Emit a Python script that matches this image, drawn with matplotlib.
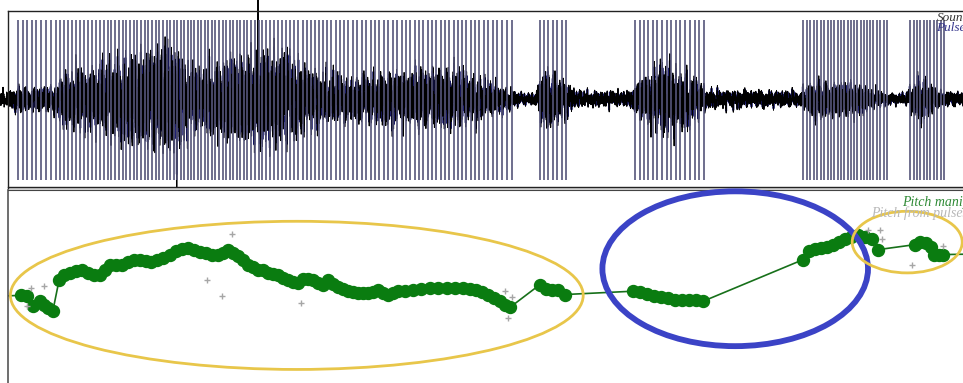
import numpy as np
import matplotlib.pyplot as plt
from matplotlib.patches import Ellipse, Rectangle

# --- manipulated pitch points (time in s, pitch in Hz) ---
pitch_t = [-0.015, 0.016, 0.024, 0.031, 0.040, 0.045, 0.050, 0.056,
           0.064, 0.070, 0.078, 0.085, 0.093, 0.100, 0.108, 0.115, 0.121,
           0.128, 0.135, 0.143, 0.150, 0.158, 0.165, 0.173, 0.179, 0.186,
           0.194, 0.203, 0.210, 0.218, 0.225, 0.233, 0.240, 0.248, 0.255,
           0.263, 0.269, 0.275, 0.281, 0.288, 0.294, 0.300, 0.306, 0.313,
           0.319, 0.325, 0.331, 0.338, 0.344, 0.350, 0.356, 0.363, 0.369,
           0.375, 0.381, 0.388, 0.394, 0.400, 0.406, 0.413, 0.419, 0.425,
           0.431, 0.438, 0.444, 0.450, 0.456, 0.463, 0.469, 0.475, 0.481,
           0.488, 0.496, 0.506, 0.516, 0.528, 0.538, 0.549, 0.559, 0.569,
           0.578, 0.585, 0.593, 0.600, 0.608, 0.615, 0.621, 0.628,
           0.665, 0.673, 0.680, 0.688, 0.696,
           0.781, 0.790, 0.799, 0.808, 0.816, 0.825, 0.834, 0.843, 0.851,
           0.860, 0.869,
           0.994, 1.001, 1.009, 1.016, 1.024, 1.031, 1.039, 1.046, 1.054,
           1.063, 1.071, 1.080, 1.088,
           1.134, 1.140, 1.148, 1.154, 1.158, 1.164, 1.169, 1.228]
pitch_hz = [176, 177, 176, 164, 170, 166, 162, 158,
            196, 201, 204, 206, 207, 204, 202, 201, 208,
            213, 213, 214, 217, 219, 220, 218, 217, 219,
            222, 226, 230, 233, 234, 231, 229, 228, 226,
            225, 228, 231, 228, 224, 219, 214, 211, 208,
            207, 204, 203, 201, 198, 196, 193, 192, 197,
            197, 196, 192, 190, 195, 191, 187, 185, 182,
            181, 180, 180, 180, 181, 184, 180, 177, 180,
            182, 182, 184, 185, 186, 186, 186, 186, 186,
            185, 184, 181, 177, 174, 170, 166, 163,
            190, 185, 184, 183, 178,
            182, 181, 179, 176, 175, 174, 172, 171, 171,
            171, 170,
            220, 230, 233, 234, 235, 238, 241, 245, 247,
            249, 247, 245, 232,
            238, 241, 240, 235, 226, 226, 226, 227]

# --- pitch measured from the pulses ---
raw_t = [0.024, 0.029, 0.045, 0.249, 0.268, 0.280, 0.366, 0.621, 0.630,
         0.625, 1.075, 1.090, 1.093, 1.130, 1.169]
raw_hz = [164, 186, 188, 195, 176, 251, 168, 182, 175,
          150, 255, 256, 245, 214, 236]

# --- voiced stretches (s) where pulses are placed ---
voiced_start = [0.0125, 0.665, 0.784, 0.994, 1.128]
voiced_end = [0.634, 0.700, 0.871, 1.099, 1.171]

# --- sound amplitude envelope ---
env_t = [-0.01, 0.015, 0.059, 0.074, 0.115, 0.140, 0.178, 0.196, 0.221,
         0.240, 0.290, 0.340, 0.378, 0.428, 0.490, 0.553, 0.615, 0.640,
         0.659, 0.671, 0.696, 0.709, 0.778, 0.790, 0.821, 0.853, 0.875,
         0.990, 1.003, 1.053, 1.096, 1.121, 1.140, 1.165, 1.250]
env_amp = [0.09, 0.14, 0.14, 0.34, 0.40, 0.54, 0.68, 0.79, 0.50,
           0.37, 0.60, 0.62, 0.34, 0.25, 0.34, 0.36, 0.16, 0.07,
           0.07, 0.40, 0.22, 0.09, 0.09, 0.25, 0.45, 0.28, 0.11,
           0.09, 0.22, 0.19, 0.07, 0.06, 0.28, 0.09, 0.06]
# two samples that run past the panel edges
peak_t = [0.211, 0.3125]
peak_amp = [-1.0, 1.12]

# --- annotation rings (centre t, centre Hz, width s, height Hz) ---
ring_t = [0.361, 0.909, 1.124]
ring_hz = [177, 209, 241]
ring_w = [0.716, 0.332, 0.1375]
ring_h = [178, 186, 74]
ring_col = ['#e8c64a', '#3b43c6', '#e8c64a']
ring_lw = [2.0, 4.2, 2.0]

W, H = 963, 383
fig = plt.figure(figsize=(W / 100, H / 100), dpi=100)
px = 800.0  # pixels per second
left = 8
right = 1000

# ---- sound + pulses panel ----
ax1 = fig.add_axes([left / W, 1 - 187.5 / H, (right - left) / W, 177 / H])
ax1.set_xlim(0, (right - left) / px)
ax1.set_ylim(-1, 1)

fs = 8000
t = np.arange(-0.01, 1.25, 1.0 / fs)
freqs = [97, 151, 233, 307, 419, 523, 661, 787, 1013, 1231, 1489,
         1777, 2111, 2503, 2953, 3391]
carrier = np.zeros_like(t)
for k, f in enumerate(freqs):
    carrier += np.sin(2 * np.pi * f * t + 0.37 * k * k + 1.3 * k)
carrier /= 2.1 * carrier.std()
env = np.interp(t, env_t, env_amp)
# soft limit so the loudest stretch stays inside the frame
wave = 0.82 * np.tanh(env * carrier / 0.82)
for pt, pa in zip(peak_t, peak_amp):
    wave[np.argmin(np.abs(t - pt))] = pa
# navy underlay gives the bluish cast inside the louder stretches
ax1.plot(t, 0.85 * wave, color='#1c1c72', lw=1.3, zorder=1)
ax1.plot(t, wave, color='black', lw=0.7, clip_on=False, zorder=2)

pulses = []
for a, b in zip(voiced_start, voiced_end):
    tp = a
    while tp <= b:
        pulses.append(tp)
        tp += 1.0 / np.interp(tp, pitch_t, pitch_hz)
ax1.vlines(pulses, -0.915, 0.893, color='#55557a', lw=1.2, zorder=3)

for s in ['top', 'left', 'bottom']:
    ax1.spines[s].set_color('#222222')
    ax1.spines[s].set_linewidth(1.0)
ax1.spines['right'].set_visible(False)
ax1.set_xticks([])
ax1.set_yticks([])

# ---- pitch panel ----
ax2 = fig.add_axes([left / W, -17 / H, (right - left) / W, 210.5 / H])
ax2.set_xlim(0, (right - left) / px)
ax2.set_ylim(51.3, 304.2)
ax2.plot(pitch_t, pitch_hz, color='#17701a', lw=1.2, zorder=2)
ax2.plot(pitch_t, pitch_hz, 'o', color='#0a7c10', ms=8.6, mec='#0a7c10',
         zorder=3)
ax2.plot(raw_t, raw_hz, '+', color='#a6a6a6', ms=4, mew=1.0, zorder=4)
for ct, ch, w, h, c, lw in zip(ring_t, ring_hz, ring_w, ring_h, ring_col, ring_lw):
    ax2.add_patch(Ellipse((ct, ch), w, h, fill=False, ec=c, lw=lw,
                          zorder=5, clip_on=False))
ax2.spines['left'].set_color('#555555')
ax2.spines['left'].set_linewidth(1.2)
ax2.spines['top'].set_color('#444444')
ax2.spines['bottom'].set_visible(False)
ax2.spines['right'].set_visible(False)
ax2.set_xticks([])
ax2.set_yticks([])

# gray divider between the two panels
fig.add_artist(Rectangle((left / W, 1 - 193.5 / H), 1, 6 / H,
                         transform=fig.transFigure, fc='#d6d6d6',
                         ec='none', zorder=0))

serif = ['Liberation Serif', 'DejaVu Serif']
fig.text(937 / W, 1 - 21 / H, 'Sound', color='#333333', fontsize=9.5,
         style='italic', family=serif)
fig.text(936 / W, 1 - 31 / H, 'Pulses', color='#35358c', fontsize=9.5,
         style='italic', family=serif)
fig.text(902 / W, 1 - 206 / H, 'Pitch manipulation', color='#2f8a35',
         fontsize=10, style='italic', family=serif)
fig.text(871 / W, 1 - 217 / H, 'Pitch from pulses', color='#b8b8b8',
         fontsize=10, style='italic', family=serif)

fig.savefig('out.png', dpi=100)
